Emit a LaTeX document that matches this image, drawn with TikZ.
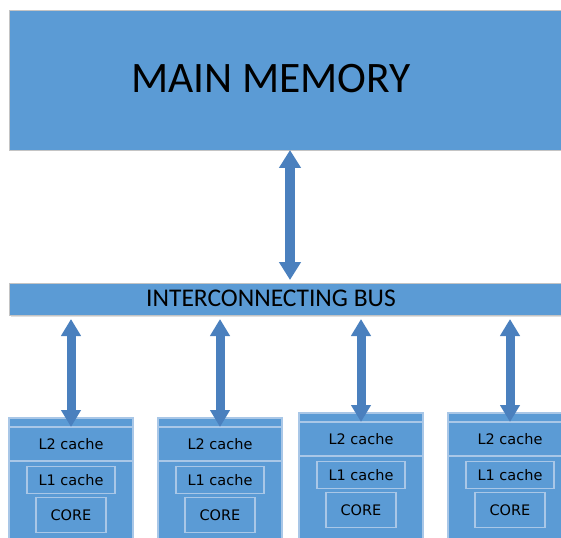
\documentclass[tikz,border=0pt]{standalone}
\usepackage{fontspec}
\setmainfont{Carlito}
\newfontfamily\cellfont{DejaVu Sans}
\usetikzlibrary{arrows.meta,calc}
\definecolor{unitblue}{HTML}{5B9BD5}
\definecolor{linkblue}{HTML}{4A80BE}
\definecolor{edgegray}{HTML}{C4C4C4}
\definecolor{celledge}{HTML}{A9C7E7}
\begin{document}
\begin{tikzpicture}[x=1pt,y=-1pt,
  panel/.style={fill=unitblue, draw=edgegray, line width=0.8pt, inner sep=0pt,
    outer sep=0pt, anchor=north west},
  panelshadow/.style={fill=black!12},
  cpubox/.style={fill=unitblue, draw=celledge, line width=1.2pt, inner sep=0pt,
    outer sep=0pt, anchor=north west, minimum width=124pt, minimum height=150pt},
  celltext/.style={inner sep=0pt, font=\cellfont\fontsize{14.5}{16}\selectfont},
  cell/.style={celltext, draw=celledge, line width=1.2pt, anchor=north},
  l1cell/.style={cell, minimum width=88pt, minimum height=27pt},
  corecell/.style={cell, minimum width=70pt, minimum height=35pt},
  divider/.style={draw=celledge, line width=1.2pt},
  biglink/.style={draw=linkblue, line width=10pt,
    {Triangle[width=21pt,length=18pt]}-{Triangle[width=21pt,length=18pt]}},
  smalllink/.style={draw=linkblue, line width=9pt,
    {Triangle[width=19pt,length=17pt]}-{Triangle[width=19pt,length=17pt]}}
]
\useasboundingbox (0,0) rectangle (561,537);
\clip (0,0) rectangle (561,537);

% main memory and the shared bus
\fill[panelshadow] (10.5,11.5) rectangle (612,151.5);
\node[panel, minimum width=600pt, minimum height=140pt] (mem) at (9,10) {};
\node[font=\fontsize{43.5}{50}\selectfont] (memtitle) at (271,79) {MAIN MEMORY};

\fill[panelshadow] (10.5,284.5) rectangle (612,316.5);
\node[panel, minimum width=600pt, minimum height=32pt] (bus) at (9,283) {};
\node[font=\fontsize{25.5}{30}\selectfont] (bustitle) at (271,298) {INTERCONNECTING BUS};

% link between memory and bus
\path (mem.south west) ++(281,0) coordinate (memport);
\path (bus.north west) ++(281,-3) coordinate (busport);
\draw[biglink] (memport) -- (busport);

% processor units
\foreach \i/\x/\y in {1/9/418, 2/158/418, 3/299/413, 4/448/413}{
  \node[cpubox] (cpu\i) at (\x,\y) {};
  \draw[divider] ($(cpu\i.north west)+(0,9)$) -- ($(cpu\i.north east)+(0,9)$);
  \draw[divider] ($(cpu\i.north west)+(0,43)$) -- ($(cpu\i.north east)+(0,43)$);
  \node[celltext] (l2\i) at ($(cpu\i.north)+(0,26)$) {L2 cache};
  \node[l1cell] (l1\i) at ($(cpu\i.north)+(0,48)$) {L1 cache};
  \node[corecell] (core\i) at ($(cpu\i.north)+(0,79)$) {CORE};
  \coordinate (band\i) at ($(cpu\i.north)+(0,9)$);
  \coordinate (tap\i) at ($(bus.south -| cpu\i.north)+(0,4)$);
  \draw[smalllink] (tap\i) -- (band\i);
}
\end{tikzpicture}
\end{document}
